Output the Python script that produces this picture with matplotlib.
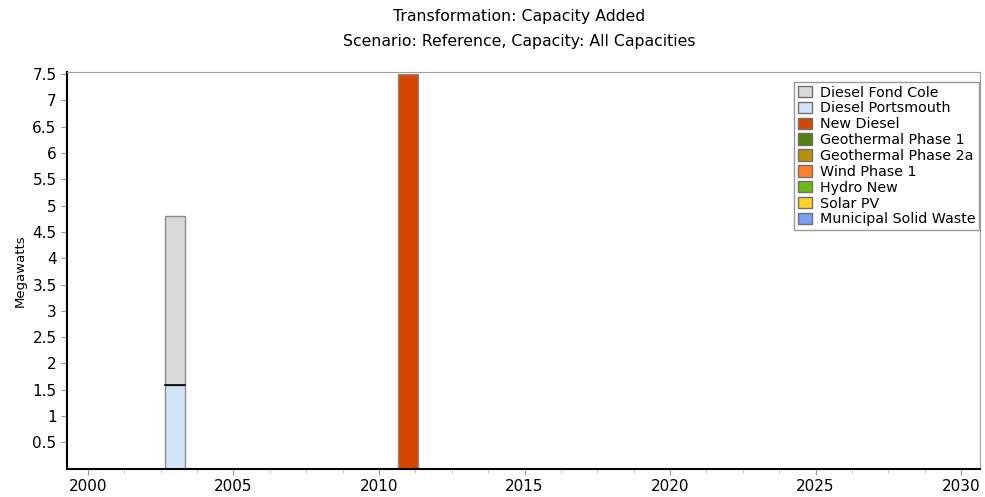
import matplotlib.pyplot as plt
from matplotlib.patches import Patch
import numpy as np

plt.rcParams['font.family'] = ['Verdana', 'DejaVu Sans']

years = [2003, 2011]
series_names = ["Diesel Fond Cole", "Diesel Portsmouth", "New Diesel",
                "Geothermal Phase 1", "Geothermal Phase 2a", "Wind Phase 1",
                "Hydro New", "Solar PV", "Municipal Solid Waste"]
diesel_fond_cole = [3.2, 0.0]
diesel_portsmouth = [1.6, 0.0]
new_diesel = [0.0, 7.5]
geothermal_1 = [0.0, 0.0]
geothermal_2a = [0.0, 0.0]
wind_1 = [0.0, 0.0]
hydro_new = [0.0, 0.0]
solar_pv = [0.0, 0.0]
msw = [0.0, 0.0]
colors = ["#d9d9d9", "#d2e4f8", "#d44500", "#4f7f10", "#b8900a",
          "#ff7f2a", "#6fb81a", "#ffd22a", "#7f9cf5"]

fig = plt.figure(figsize=(9.85, 4.97), dpi=100)
ax = fig.add_axes([0.068, 0.057, 0.927, 0.798])

# stacking order: bottom series first
stack_order = [(1, diesel_portsmouth), (0, diesel_fond_cole), (2, new_diesel),
               (3, geothermal_1), (4, geothermal_2a), (5, wind_1),
               (6, hydro_new), (7, solar_pv), (8, msw)]
bottom = np.zeros(len(years))
for idx, vals in stack_order:
    vals = np.array(vals)
    mask = vals > 0
    if mask.any():
        ax.bar(np.array(years)[mask], vals[mask], width=0.7, bottom=bottom[mask],
               color=colors[idx], edgecolor='#8c8c8c', linewidth=1.0)
    bottom += vals

# dark separator between stacked segments
ax.plot([2003 - 0.35, 2003 + 0.35], [1.6, 1.6], color='black', lw=1.2, zorder=5)

ax.set_xlim(1999.28, 2030.65)
ax.set_ylim(0, 7.54)
ax.set_xticks(np.arange(2000, 2031, 5))
ax.set_xticks(np.arange(2000, 2031, 1.25), minor=True)
ax.set_yticks(np.arange(0.5, 7.6, 0.5))
ax.set_yticklabels([f"{v:g}" for v in np.arange(0.5, 7.6, 0.5)])
ax.tick_params(axis='both', labelsize=11, colors='#999999', labelcolor='black', length=4)
ax.tick_params(axis='x', which='minor', length=3, colors='#bbbbbb')
ax.set_ylabel("Megawatts", fontsize=9.5, labelpad=4)

ax.spines['left'].set_linewidth(1.5)
ax.spines['bottom'].set_linewidth(1.5)
ax.spines['left'].set_color('black')
ax.spines['bottom'].set_color('black')
ax.spines['top'].set_color('#a0a0a0')
ax.spines['right'].set_color('#a0a0a0')

handles = [Patch(facecolor=c, edgecolor='#707070', linewidth=1.0) for c in colors]
leg = ax.legend(handles, series_names, loc='upper right',
                bbox_to_anchor=(0.9985, 0.975), fontsize=10.3, frameon=True, fancybox=False,
                edgecolor='#808080', handlelength=1.0, handleheight=0.85,
                handletextpad=0.5, labelspacing=0.13, borderpad=0.25, borderaxespad=0.0)
leg.get_frame().set_linewidth(1.0)

fig.text(0.527, 0.966, "Transformation: Capacity Added", ha='center', va='center', fontsize=11.3)
fig.text(0.527, 0.917, "Scenario: Reference, Capacity: All Capacities", ha='center', va='center', fontsize=11.3)

fig.savefig("out.png", dpi=100)
